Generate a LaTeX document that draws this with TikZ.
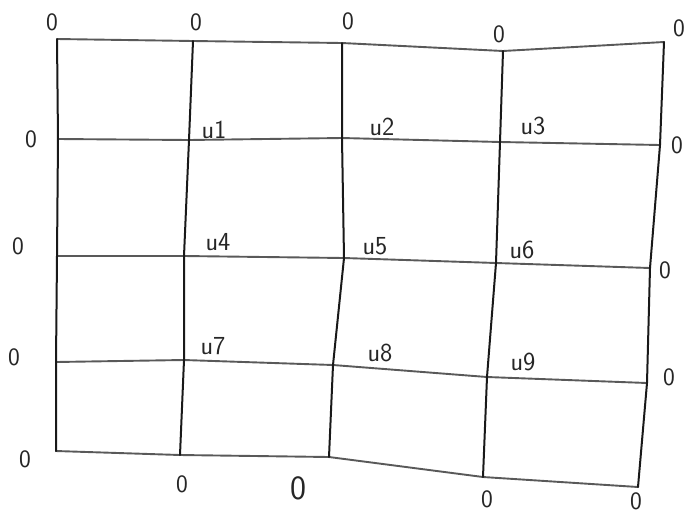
\documentclass[tikz,border=0pt]{standalone}
\usepackage{fontspec}
\setmainfont{DejaVu Sans}
\begin{document}
\begin{tikzpicture}[x=1pt,y=-1pt,
  vline/.style={draw=black!90,line width=2pt,line cap=round,line join=round},
  hline/.style={draw=black!65,line width=1.9pt,line cap=round,line join=round},
  zero/.style={font=\fontsize{25}{27}\selectfont\sffamily,text=black!85,inner sep=0pt},
  ulab/.style={font=\fontsize{26}{28}\selectfont\sffamily,text=black!85,inner sep=0pt}]
\useasboundingbox (0,0) rectangle (688,515);
% grid points
\coordinate (p00) at (57,39);  \coordinate (p01) at (193,41); \coordinate (p02) at (342,43); \coordinate (p03) at (503,51); \coordinate (p04) at (664,42);
\coordinate (p10) at (58,139); \coordinate (p11) at (189,140); \coordinate (p12) at (342,138); \coordinate (p13) at (500,142); \coordinate (p14) at (660,145);
\coordinate (p20) at (57,256); \coordinate (p21) at (184,256); \coordinate (p22) at (344,258); \coordinate (p23) at (496,263); \coordinate (p24) at (650,268);
\coordinate (p30) at (56,362); \coordinate (p31) at (184,360); \coordinate (p32) at (333,365); \coordinate (p33) at (487,377); \coordinate (p34) at (647,383);
\coordinate (p40) at (56,451); \coordinate (p41) at (180,455); \coordinate (p42) at (329,457); \coordinate (p43) at (483,477); \coordinate (p44) at (638,487);
% horizontal lines
\foreach \r in {0,...,4}{
  \draw[hline] (p\r0) -- (p\r1) -- (p\r2) -- (p\r3) -- (p\r4);
}
% vertical lines
\foreach \c in {0,...,4}{
  \draw[vline] (p0\c) -- (p1\c) -- (p2\c) -- (p3\c) -- (p4\c);
}
% boundary zeros
\node[zero] (t0) at (52,22) {0};
\node[zero] (t1) at (196,22) {0};
\node[zero] (t2) at (348,21) {0};
\node[zero] (t3) at (499,34) {0};
\node[zero] (t4) at (679,28) {0};
\node[zero] (l1) at (31,139) {0};
\node[zero] (l2) at (18,246) {0};
\node[zero] (l3) at (14,357) {0};
\node[zero] (l4) at (25,459) {0};
\node[zero] (r1) at (677,145) {0};
\node[zero] (r2) at (665,270) {0};
\node[zero] (r3) at (669,377) {0};
\node[zero] (b1) at (182,484) {0};
\node[zero,font=\fontsize{34}{36}\selectfont\sffamily] (b2) at (298,488) {0};
\node[zero] (b3) at (487,499) {0};
\node[zero] (b4) at (636,501) {0};
% unknowns
\node[ulab] (u1) at (214,130) {u1};
\node[ulab] (u2) at (382,127) {u2};
\node[ulab] (u3) at (533,126) {u3};
\node[ulab] (u4) at (218,242) {u4};
\node[ulab] (u5) at (375,246) {u5};
\node[ulab] (u6) at (522,250) {u6};
\node[ulab] (u7) at (213,346) {u7};
\node[ulab] (u8) at (380,353) {u8};
\node[ulab] (u9) at (523,362) {u9};
\end{tikzpicture}
\end{document}
